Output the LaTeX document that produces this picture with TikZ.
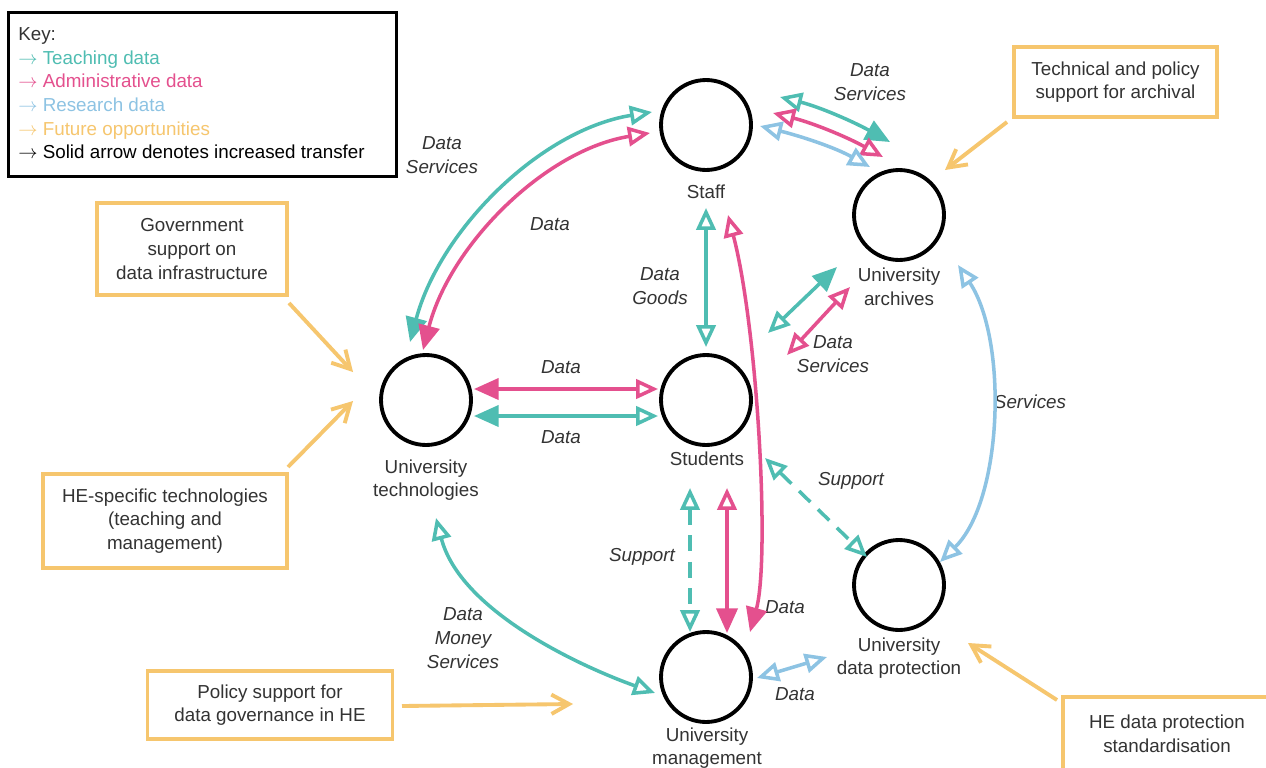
\documentclass[tikz,border=0pt]{standalone}
\usepackage{fontspec}
\setmainfont{Liberation Sans}
\usetikzlibrary{arrows.meta}
\definecolor{tealc}{HTML}{4FBDB2}
\definecolor{pinkc}{HTML}{E4508E}
\definecolor{bluec}{HTML}{8DC3E3}
\definecolor{orangec}{HTML}{F6C66E}
\definecolor{txt}{HTML}{333333}
\newcommand\keyarrow{$\rightarrow$}
\begin{document}
\begin{tikzpicture}[x=0.02cm,y=-0.02cm,
  every node/.style={font=\fontsize{10.7pt}{13.5pt}\selectfont, text=txt},
  hub/.style={circle, draw=black, line width=2.2pt, minimum size=1.8cm, inner sep=0pt},
  lbl/.style={align=center, inner sep=0pt},
  elbl/.style={align=center, inner sep=0pt, font=\fontsize{10.7pt}{13.5pt}\selectfont\itshape},
  obox/.style={draw=orangec, line width=1.9pt, align=center, inner sep=0pt},
  conn/.style={line width=2pt},
  tconn/.style={conn, draw=tealc},
  pconn/.style={conn, draw=pinkc},
  bconn/.style={conn, draw=bluec},
  dashedconn/.style={dash pattern=on 9pt off 6pt},
  oarrow/.style={draw=orangec, line width=2.2pt, -{Straight Barb[length=10pt,width=11pt]}},
  Fil/.tip={Triangle[length=14pt,width=12pt]},
  Opn/.tip={Triangle[open,length=12.5pt,width=11pt]}
]
\useasboundingbox (0,0) rectangle (1266,767);
\fill[white] (0,0) rectangle (1266,767);

% hubs
\node[hub] (staff) at (706,125) {};
\node[hub] (arch) at (899,215) {};
\node[hub] (tech) at (426,400) {};
\node[hub] (stud) at (706,400) {};
\node[hub] (mgmt) at (706,677) {};
\node[hub] (prot) at (899,585) {};

% hub labels
\node[lbl] (staffL) at (706,192) {Staff};
\node[lbl] (archL) at (899,287) {University\\archives};
\node[lbl] (techL) at (426,480) {University\\technologies};
\node[lbl] (studL) at (707,459) {Students};
\node[lbl] (mgmtL) at (707,748) {University\\management};
\node[lbl] (protL) at (899,658) {University\\data protection};

% key
\node[draw=black, line width=1.7pt, minimum width=7.78cm, minimum height=3.3cm, inner sep=0pt] (key) at (202.5,94.5) {};
\node[anchor=north west, align=left, inner sep=0pt] (keytext) at (18,27) {Key:\\
\textcolor{tealc}{\keyarrow\ Teaching data}\\
\textcolor{pinkc}{\keyarrow\ Administrative data}\\
\textcolor{bluec}{\keyarrow\ Research data}\\
\textcolor{orangec}{\keyarrow\ Future opportunities}\\
\textcolor{black}{\keyarrow\ Solid arrow denotes increased transfer}};

% orange boxes
\node[obox, minimum width=3.8cm, minimum height=1.84cm] (gov) at (192,249) {Government\\support on\\data infrastructure};
\node[obox, minimum width=4.88cm, minimum height=1.88cm] (hespec) at (165,521) {HE-specific technologies\\(teaching and\\management)};
\node[obox, minimum width=4.9cm, minimum height=1.36cm] (policy) at (270,705) {Policy support for\\data governance in HE};
\node[obox, minimum width=4.06cm, minimum height=1.4cm] (techpol) at (1115.5,82) {Technical and policy\\support for archival};
\node[obox, minimum width=4.16cm, minimum height=1.48cm] (hedp) at (1167,734) {HE data protection\\standardisation};

% edge labels
\node[elbl] (l1) at (442,155) {Data\\Services};
\node[elbl] (l2) at (550,224) {Data};
\node[elbl] (l3) at (870,82) {Data\\Services};
\node[elbl] (l4) at (660,286) {Data\\Goods};
\node[elbl] (l5) at (561,367) {Data};
\node[elbl] (l6) at (561,437) {Data};
\node[elbl] (l7) at (833,354) {Data\\Services};
\node[elbl] (l8) at (1030,402) {Services};
\node[elbl] (l9) at (851,481) {Support};
\node[elbl] (l10) at (642,557) {Support};
\node[elbl] (l11) at (785,607) {Data};
\node[elbl] (l12) at (463,638) {Data\\Money\\Services};
\node[elbl] (l13) at (795,694) {Data};

% technologies - staff
\draw[tconn, Fil-Opn] ([shift={(-16,-58)}]tech.center) .. controls +(30,-112) and +(-112,18) .. ([shift={(-54,-13)}]staff.center);
\draw[pconn, Fil-Opn] ([shift={(-3,-50)}]tech.center) .. controls +(27,-105) and +(-105,17) .. ([shift={(-56,8)}]staff.center);

% staff - archives
\draw[tconn, Opn-Fil] ([shift={(74,-28)}]staff.center) .. controls +(40,10) and +(-36,-20) .. ([shift={(-9,-73)}]arch.center);
\draw[pconn, Opn-Opn] ([shift={(67,-12)}]staff.center) .. controls +(40,10) and +(-36,-20) .. ([shift={(-16,-58)}]arch.center);
\draw[bconn, Opn-Opn] ([shift={(54,1)}]staff.center) .. controls +(40,10) and +(-36,-20) .. ([shift={(-29,-48)}]arch.center);

% staff - students
\draw[tconn, Opn-Opn] ([shift={(0,83)}]staff.center) -- ([shift={(0,-53)}]stud.center);

% staff - management
\draw[pconn, Opn-Fil] ([shift={(22,90)}]staff.center) .. controls +(30,115) and +(20,-72) .. ([shift={(44,-45)}]mgmt.center);

% technologies - students
\draw[pconn, Fil-Opn] ([shift={(48,-11)}]tech.center) -- ([shift={(-48,-11)}]stud.center);
\draw[tconn, Fil-Opn] ([shift={(48,16)}]tech.center) -- ([shift={(-48,16)}]stud.center);

% students - management
\draw[tconn, dashedconn, Opn-Opn] ([shift={(-16,88)}]stud.center) -- ([shift={(-16,-45)}]mgmt.center);
\draw[pconn, Opn-Fil] ([shift={(21,88)}]stud.center) -- ([shift={(21,-44)}]mgmt.center);

% students - data protection
\draw[tconn, dashedconn, Opn-Opn] ([shift={(59,58)}]stud.center) -- ([shift={(-32,-28)}]prot.center);

% students - archives
\draw[tconn, Opn-Fil] ([shift={(62,-67)}]stud.center) -- ([shift={(-62,52)}]arch.center);
\draw[pconn, Opn-Opn] ([shift={(81,-45)}]stud.center) -- ([shift={(-49,72)}]arch.center);

% archives - data protection
\draw[bconn, Opn-Opn] ([shift={(59,50)}]arch.center) .. controls +(50,75) and +(63,-62) .. ([shift={(41,-23)}]prot.center);

% technologies - management
\draw[tconn, Opn-Opn] ([shift={(10,118)}]tech.center) .. controls +(24,92) and +(-78,-28) .. ([shift={(-51,16)}]mgmt.center);

% management - data protection
\draw[bconn, Opn-Opn] ([shift={(51,1)}]mgmt.center) -- ([shift={(-72,72)}]prot.center);

% future opportunities
\draw[oarrow] ([shift={(97,54)}]gov.center) -- ([shift={(-73,-28)}]tech.center);
\draw[oarrow] ([shift={(123,-54)}]hespec.center) -- ([shift={(-73,1)}]tech.center);
\draw[oarrow] ([shift={(132,1)}]policy.center) -- ([shift={(-133,27)}]mgmt.center);
\draw[oarrow] ([shift={(-108.5,40)}]techpol.center) -- ([shift={(46,-45)}]arch.center);
\draw[oarrow] ([shift={(-110,-34)}]hedp.center) -- ([shift={(69,58)}]prot.center);
\end{tikzpicture}
\end{document}
